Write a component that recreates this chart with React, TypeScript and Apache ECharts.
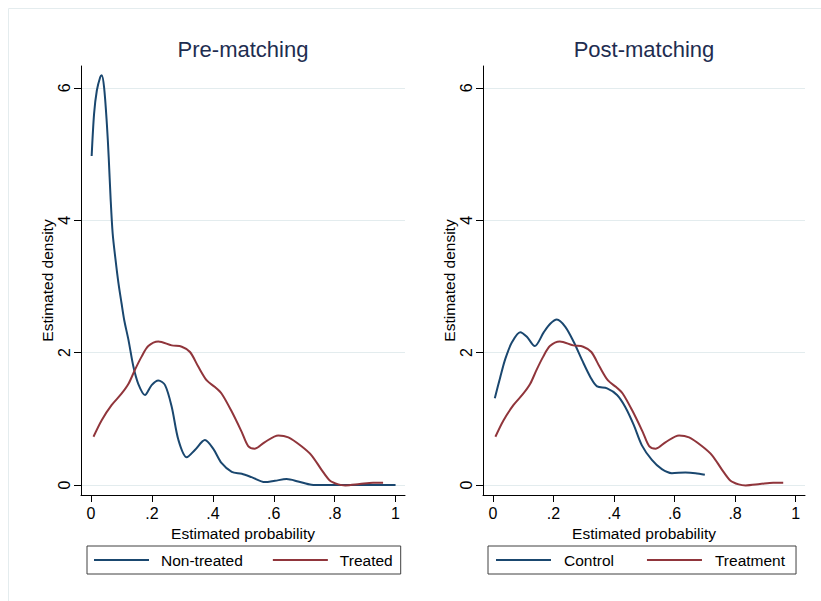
import React, { useEffect, useRef } from "react";
import * as echarts from "echarts";

// Pre-matching: Non-treated (navy) and Treated (maroon)
const nonTreated: [number, number][] = [
  [0.002, 4.97], [0.01, 5.61], [0.019, 5.96], [0.03, 6.16], [0.035, 6.19],
  [0.043, 6.0], [0.052, 5.45], [0.058, 4.95], [0.064, 4.35], [0.071, 3.8],
  [0.08, 3.42], [0.09, 3.05], [0.1, 2.75], [0.109, 2.49], [0.123, 2.19],
  [0.139, 1.79], [0.155, 1.53], [0.177, 1.36], [0.199, 1.51], [0.221, 1.58],
  [0.243, 1.51], [0.265, 1.18], [0.287, 0.68], [0.314, 0.42], [0.341, 0.53],
  [0.374, 0.68], [0.401, 0.55], [0.429, 0.33], [0.462, 0.2], [0.495, 0.17],
  [0.527, 0.12], [0.571, 0.045], [0.604, 0.065], [0.642, 0.09], [0.68, 0.055],
  [0.724, 0.005], [0.76, 0.0], [0.85, 0.0], [0.93, 0.0], [1.0, 0.0],
];

const treated: [number, number][] = [
  [0.008, 0.73], [0.035, 0.98], [0.068, 1.21], [0.1, 1.38], [0.123, 1.53],
  [0.144, 1.74], [0.166, 1.94], [0.188, 2.1], [0.221, 2.17], [0.265, 2.11],
  [0.298, 2.09], [0.325, 2.01], [0.352, 1.79], [0.38, 1.58], [0.407, 1.48],
  [0.429, 1.38], [0.462, 1.11], [0.495, 0.8], [0.516, 0.59], [0.538, 0.55],
  [0.571, 0.65], [0.615, 0.75], [0.648, 0.72], [0.69, 0.59], [0.724, 0.45],
  [0.757, 0.23], [0.784, 0.07], [0.812, 0.01], [0.835, -0.005], [0.882, 0.015],
  [0.926, 0.035], [0.959, 0.035],
];

// Post-matching: Control (navy) and Treatment (maroon)
const control: [number, number][] = [
  [0.006, 1.31], [0.024, 1.63], [0.041, 1.91], [0.063, 2.16], [0.09, 2.31],
  [0.112, 2.24], [0.138, 2.1], [0.168, 2.31], [0.19, 2.44], [0.211, 2.5],
  [0.239, 2.39], [0.267, 2.16], [0.294, 1.89], [0.322, 1.63], [0.344, 1.49],
  [0.377, 1.46], [0.41, 1.36], [0.437, 1.18], [0.465, 0.91], [0.492, 0.6],
  [0.525, 0.38], [0.558, 0.24], [0.591, 0.18], [0.636, 0.19], [0.669, 0.18],
  [0.7, 0.155],
];

const treatment: [number, number][] = treated.map((p) => [p[0], p[1]]);

const panelTitles = ["Pre-matching", "Post-matching"];
const leftLegend = ["Non-treated", "Treated"];
const rightLegend = ["Control", "Treatment"];
const xTicks = [0, 0.2, 0.4, 0.6, 0.8, 1];
const yTicks = [0, 2, 4, 6];

const NAVY = "#1a476f";
const MAROON = "#90353b";
const FONT = "'Liberation Sans', Arial, Helvetica, sans-serif";

const xFmt = (v: number) => {
  if (v === 0) return "0";
  if (v === 1) return "1";
  return String(Math.round(v * 10) / 10).replace(/^0/, "");
};

function makeX(gridIndex: number) {
  return {
    type: "value",
    gridIndex,
    min: -0.033,
    max: 1.031,
    name: "Estimated probability",
    nameLocation: "middle",
    nameGap: 24,
    nameTextStyle: { fontSize: 15.5, color: "#000", fontFamily: FONT },
    axisLine: { show: true, onZero: false, lineStyle: { color: "#000", width: 1 } },
    axisTick: { show: true, inside: false, length: 7, customValues: xTicks, lineStyle: { color: "#000" } },
    axisLabel: { show: true, margin: 10, fontSize: 16, color: "#000", fontFamily: FONT, customValues: xTicks, formatter: xFmt },
    splitLine: { show: false },
  };
}

function makeY(gridIndex: number) {
  return {
    type: "value",
    gridIndex,
    min: -0.15,
    max: 6.33,
    name: "Estimated density",
    nameLocation: "middle",
    nameGap: 25,
    nameRotate: 90,
    nameTextStyle: { fontSize: 15.5, color: "#000", fontFamily: FONT },
    axisLine: { show: true, onZero: false, lineStyle: { color: "#000", width: 1 } },
    axisTick: { show: true, inside: false, length: 7, customValues: yTicks, lineStyle: { color: "#000" } },
    axisLabel: { show: true, rotate: 90, margin: 9, fontSize: 16, color: "#000", fontFamily: FONT, customValues: yTicks, formatter: (v: number) => String(v) },
    splitLine: { show: true, lineStyle: { color: "#e3ecee", width: 1 } },
  };
}

function makeLegend(data: string[], left: number, itemGap: number, pad: number[], textGap: number) {
  return {
    data,
    left,
    top: 546,
    orient: "horizontal",
    icon: "rect",
    itemWidth: 55,
    itemHeight: 2,
    itemGap,
    padding: pad,
    borderColor: "#404040",
    borderWidth: 1,
    backgroundColor: "#fff",
    textStyle: { fontSize: 15.5, color: "#000", fontFamily: FONT, padding: [0, 0, 0, textGap] },
  };
}

function line(name: string, data: [number, number][], color: string, idx: number) {
  return {
    type: "line",
    name,
    xAxisIndex: idx,
    yAxisIndex: idx,
    data,
    smooth: 0.3,
    symbol: "none",
    showSymbol: false,
    clip: false,
    lineStyle: { color, width: 2 },
    itemStyle: { color },
  };
}

export default function App() {
  const ref = useRef<HTMLDivElement>(null);
  useEffect(() => {
    if (!ref.current) return;
    const chart = echarts.init(ref.current, null, { renderer: "svg" });
    chart.setOption({
      animation: false,
      backgroundColor: "#fff",
      textStyle: { fontFamily: FONT },
      title: [
        { text: panelTitles[0], left: 243, top: 38, textAlign: "center", padding: 0,
          textStyle: { fontSize: 22, fontWeight: "normal", color: "#1e2d50", fontFamily: FONT } },
        { text: panelTitles[1], left: 644, top: 38, textAlign: "center", padding: 0,
          textStyle: { fontSize: 22, fontWeight: "normal", color: "#1e2d50", fontFamily: FONT } },
      ],
      grid: [
        { left: 81, right: 821 - 405, top: 66, bottom: 601 - 495, containLabel: false },
        { left: 483, right: 821 - 805, top: 66, bottom: 601 - 495, containLabel: false },
      ],
      xAxis: [makeX(0), makeX(1)],
      yAxis: [makeY(0), makeY(1)],
      legend: [
        makeLegend(leftLegend, 87, 30, [6, 8, 6, 7], 7),
        makeLegend(rightLegend, 488, 33, [6, 11, 6, 8], 8),
      ],
      graphic: [
        {
          type: "rect",
          shape: { x: 8.5, y: 8.5, width: 900, height: 900 },
          style: { fill: "none", stroke: "#e4ecee", lineWidth: 1 },
          silent: true,
        },
      ],
      series: [
        line(leftLegend[0], nonTreated, NAVY, 0),
        line(leftLegend[1], treated, MAROON, 0),
        line(rightLegend[0], control, NAVY, 1),
        line(rightLegend[1], treatment, MAROON, 1),
      ],
    });
    return () => chart.dispose();
  }, []);
  return (
    <div
      ref={ref}
      style={{ position: "fixed", left: 0, top: 0, width: 821, height: 601, background: "#fff" }}
    />
  );
}
